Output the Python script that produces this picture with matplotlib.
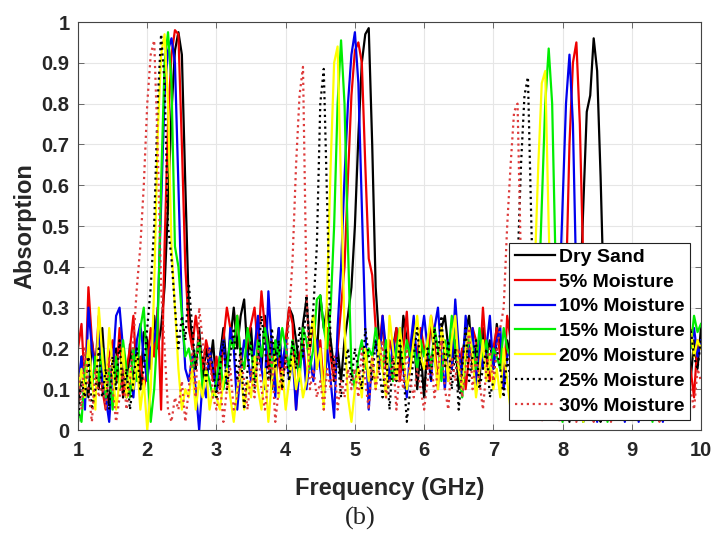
import numpy as np
import matplotlib
matplotlib.use("Agg")
import matplotlib.pyplot as plt

plt.rcParams['font.family'] = ['Liberation Sans', 'DejaVu Sans']

# frequency grid, 1 to 10 GHz in 0.05 GHz steps
freq = np.round(np.arange(1, 10.001, 0.05), 2)

dry_sand = [
    0.05, 0.18, 0.12, 0.08, 0.22, 0.15, 0.10, 0.25, 0.12, 0.06, 0.18, 0.20, 0.10, 0.15, 0.08, 0.21, 0.12, 0.18, 0.10, 0.24,
    0.22, 0.15, 0.28, 0.20, 0.25, 0.35, 0.55, 0.78, 0.93, 0.975, 0.92, 0.60, 0.30, 0.22, 0.15, 0.25, 0.12, 0.20, 0.15, 0.22,
    0.10, 0.18, 0.25, 0.15, 0.22, 0.30, 0.20, 0.28, 0.32, 0.18, 0.25, 0.12, 0.20, 0.15, 0.28, 0.22, 0.10, 0.18, 0.25, 0.15,
    0.20, 0.30, 0.28, 0.22, 0.15, 0.26, 0.32, 0.20, 0.28, 0.18, 0.33, 0.25, 0.30, 0.22, 0.15, 0.20, 0.12, 0.22, 0.28, 0.35,
    0.50, 0.72, 0.90, 0.97, 0.985, 0.70, 0.35, 0.22, 0.25, 0.18, 0.12, 0.20, 0.25, 0.15, 0.28, 0.22, 0.18, 0.25, 0.10, 0.20,
    0.08, 0.22, 0.26, 0.18, 0.12, 0.25, 0.28, 0.20, 0.15, 0.22, 0.10, 0.18, 0.24, 0.28, 0.15, 0.20, 0.12, 0.25, 0.18, 0.22,
    0.15, 0.26, 0.20, 0.12, 0.22, 0.18, 0.25, 0.10, 0.20, 0.24, 0.15, 0.22, 0.18, 0.12, 0.20, 0.08, 0.15, 0.22, 0.10, 0.18,
    0.05, 0.15, 0.02, 0.20, 0.10, 0.30, 0.55, 0.78, 0.82, 0.96, 0.88, 0.62, 0.30, 0.15, 0.05, 0.12, 0.08, 0.18, 0.10, 0.05,
    0.12, 0.03, 0.15, 0.08, 0.20, 0.10, 0.04, 0.18, 0.12, 0.22, 0.08, 0.15, 0.05, 0.20, 0.10, 0.25, 0.18, 0.12, 0.22, 0.15,
    0.25]

moist_5 = [
    0.20, 0.26, 0.10, 0.35, 0.22, 0.15, 0.28, 0.10, 0.05, 0.18, 0.22, 0.12, 0.25, 0.08, 0.15, 0.20, 0.28, 0.12, 0.18, 0.10,
    0.15, 0.25, 0.18, 0.30, 0.05, 0.45, 0.75, 0.92, 0.98, 0.97, 0.70, 0.40, 0.25, 0.20, 0.28, 0.22, 0.15, 0.22, 0.18, 0.12,
    0.18, 0.10, 0.22, 0.30, 0.25, 0.20, 0.28, 0.18, 0.15, 0.22, 0.26, 0.30, 0.20, 0.34, 0.25, 0.15, 0.22, 0.12, 0.18, 0.10,
    0.22, 0.30, 0.26, 0.05, 0.18, 0.22, 0.12, 0.20, 0.28, 0.15, 0.22, 0.10, 0.25, 0.18, 0.12, 0.20, 0.30, 0.40, 0.62, 0.82,
    0.93, 0.95, 0.90, 0.65, 0.42, 0.38, 0.25, 0.20, 0.28, 0.15, 0.22, 0.18, 0.25, 0.12, 0.20, 0.29, 0.15, 0.22, 0.18, 0.25,
    0.20, 0.15, 0.28, 0.22, 0.10, 0.25, 0.18, 0.12, 0.22, 0.28, 0.15, 0.20, 0.10, 0.18, 0.25, 0.22, 0.15, 0.30, 0.18, 0.12,
    0.20, 0.25, 0.18, 0.10, 0.28, 0.22, 0.15, 0.20, 0.24, 0.18, 0.12, 0.22, 0.18, 0.15, 0.20, 0.25, 0.18, 0.12, 0.22, 0.18,
    0.20, 0.35, 0.70, 0.90, 0.95, 0.75, 0.40, 0.20, 0.12, 0.18, 0.10, 0.15, 0.22, 0.12, 0.08, 0.15, 0.20, 0.10, 0.15, 0.08,
    0.18, 0.12, 0.05, 0.15, 0.22, 0.10, 0.18, 0.08, 0.12, 0.20, 0.15, 0.25, 0.10, 0.18, 0.05, 0.12, 0.20, 0.15, 0.08, 0.22,
    0.20]

moist_10 = [
    0.10, 0.18, 0.05, 0.30, 0.20, 0.15, 0.25, 0.12, 0.08, 0.02, 0.15, 0.28, 0.30, 0.20, 0.10, 0.15, 0.08, 0.22, 0.26, 0.18,
    0.12, 0.20, 0.22, 0.28, 0.55, 0.82, 0.93, 0.96, 0.90, 0.60, 0.30, 0.15, 0.12, 0.18, 0.10, 0.00, 0.12, 0.08, 0.20, 0.15,
    0.10, 0.18, 0.22, 0.12, 0.25, 0.20, 0.05, 0.15, 0.22, 0.18, 0.12, 0.20, 0.28, 0.15, 0.10, 0.34, 0.20, 0.08, 0.25, 0.15,
    0.22, 0.12, 0.18, 0.05, 0.15, 0.20, 0.10, 0.18, 0.12, 0.22, 0.15, 0.08, 0.20, 0.12, 0.03, 0.25, 0.40, 0.62, 0.80, 0.92,
    0.975, 0.85, 0.55, 0.25, 0.05, 0.18, 0.22, 0.15, 0.28, 0.20, 0.12, 0.22, 0.18, 0.25, 0.15, 0.08, 0.20, 0.28, 0.15, 0.22,
    0.28, 0.20, 0.12, 0.25, 0.30, 0.18, 0.10, 0.22, 0.15, 0.32, 0.20, 0.12, 0.28, 0.18, 0.25, 0.10, 0.22, 0.15, 0.20, 0.28,
    0.15, 0.22, 0.25, 0.10, 0.18, 0.20, 0.28, 0.12, 0.22, 0.15, 0.20, 0.18, 0.12, 0.25, 0.18, 0.10, 0.20, 0.15, 0.22, 0.30,
    0.55, 0.80, 0.92, 0.75, 0.35, 0.10, 0.02, 0.15, 0.08, 0.12, 0.02, 0.10, 0.18, 0.06, 0.12, 0.03, 0.15, 0.08, 0.02, 0.10,
    0.05, 0.12, 0.02, 0.08, 0.15, 0.04, 0.10, 0.18, 0.06, 0.02, 0.12, 0.20, 0.08, 0.15, 0.05, 0.22, 0.28, 0.20, 0.25, 0.18,
    0.22]

moist_15 = [
    0.05, 0.02, 0.15, 0.20, 0.10, 0.18, 0.12, 0.20, 0.08, 0.15, 0.05, 0.18, 0.10, 0.22, 0.15, 0.08, 0.20, 0.12, 0.25, 0.30,
    0.15, 0.02, 0.10, 0.25, 0.60, 0.90, 0.975, 0.85, 0.45, 0.40, 0.28, 0.18, 0.20, 0.15, 0.18, 0.22, 0.10, 0.15, 0.12, 0.08,
    0.12, 0.18, 0.10, 0.15, 0.22, 0.20, 0.28, 0.18, 0.15, 0.25, 0.20, 0.12, 0.22, 0.18, 0.25, 0.20, 0.15, 0.22, 0.18, 0.25,
    0.20, 0.15, 0.22, 0.18, 0.12, 0.25, 0.22, 0.15, 0.20, 0.32, 0.33, 0.25, 0.20, 0.30, 0.50, 0.80, 0.955, 0.80, 0.45, 0.15,
    0.10, 0.18, 0.22, 0.15, 0.20, 0.18, 0.25, 0.20, 0.15, 0.22, 0.18, 0.12, 0.20, 0.25, 0.15, 0.22, 0.18, 0.20, 0.15, 0.22,
    0.18, 0.22, 0.15, 0.25, 0.20, 0.12, 0.22, 0.18, 0.28, 0.20, 0.15, 0.08, 0.18, 0.22, 0.20, 0.15, 0.25, 0.18, 0.22, 0.15,
    0.20, 0.18, 0.15, 0.25, 0.20, 0.18, 0.22, 0.15, 0.25, 0.20, 0.18, 0.22, 0.22, 0.30, 0.55, 0.80, 0.935, 0.80, 0.40, 0.12,
    0.02, 0.10, 0.15, 0.05, 0.12, 0.08, 0.02, 0.15, 0.10, 0.05, 0.12, 0.08, 0.15, 0.02, 0.10, 0.18, 0.05, 0.12, 0.08, 0.15,
    0.10, 0.05, 0.12, 0.18, 0.08, 0.15, 0.02, 0.12, 0.20, 0.10, 0.15, 0.05, 0.18, 0.12, 0.25, 0.29, 0.22, 0.20, 0.28, 0.24,
    0.26]

moist_20 = [
    0.10, 0.15, 0.08, 0.22, 0.12, 0.05, 0.30, 0.18, 0.10, 0.25, 0.15, 0.05, 0.12, 0.20, 0.08, 0.15, 0.10, 0.18, 0.05, 0.12,
    0.00, 0.10, 0.35, 0.72, 0.92, 0.97, 0.80, 0.45, 0.30, 0.15, 0.05, 0.10, 0.08, 0.15, 0.05, 0.12, 0.08, 0.15, 0.05, 0.10,
    0.08, 0.05, 0.12, 0.15, 0.08, 0.02, 0.10, 0.15, 0.05, 0.12, 0.08, 0.18, 0.10, 0.05, 0.15, 0.02, 0.12, 0.18, 0.08, 0.15,
    0.05, 0.12, 0.18, 0.10, 0.15, 0.08, 0.12, 0.22, 0.28, 0.15, 0.20, 0.05, 0.35, 0.65, 0.90, 0.94, 0.60, 0.25, 0.08, 0.02,
    0.10, 0.15, 0.08, 0.20, 0.12, 0.18, 0.10, 0.22, 0.15, 0.08, 0.28, 0.20, 0.12, 0.25, 0.18, 0.10, 0.15, 0.22, 0.28, 0.18,
    0.15, 0.22, 0.28, 0.18, 0.10, 0.25, 0.20, 0.12, 0.22, 0.28, 0.15, 0.10, 0.20, 0.25, 0.18, 0.08, 0.15, 0.22, 0.12, 0.18,
    0.10, 0.15, 0.08, 0.20, 0.12, 0.05, 0.18, 0.10, 0.15, 0.25, 0.12, 0.20, 0.40, 0.65, 0.85, 0.88, 0.50, 0.20, 0.05, 0.10,
    0.15, 0.08, 0.12, 0.05, 0.18, 0.10, 0.02, 0.12, 0.08, 0.15, 0.05, 0.10, 0.18, 0.08, 0.12, 0.05, 0.15, 0.10, 0.08, 0.12,
    0.05, 0.10, 0.15, 0.08, 0.12, 0.05, 0.18, 0.10, 0.08, 0.15, 0.12, 0.05, 0.10, 0.18, 0.15, 0.22, 0.20, 0.25, 0.18, 0.22,
    0.20]

moist_25 = [
    0.02, 0.12, 0.08, 0.18, 0.05, 0.10, 0.20, 0.08, 0.15, 0.05, 0.18, 0.10, 0.22, 0.08, 0.15, 0.05, 0.12, 0.20, 0.10, 0.15,
    0.25, 0.35, 0.50, 0.80, 0.97, 0.85, 0.50, 0.42, 0.30, 0.20, 0.28, 0.22, 0.36, 0.25, 0.15, 0.22, 0.18, 0.12, 0.20, 0.15,
    0.08, 0.15, 0.22, 0.10, 0.18, 0.25, 0.12, 0.20, 0.05, 0.15, 0.22, 0.10, 0.18, 0.28, 0.20, 0.12, 0.25, 0.15, 0.22, 0.10,
    0.18, 0.12, 0.22, 0.15, 0.25, 0.18, 0.33, 0.20, 0.30, 0.45, 0.80, 0.885, 0.55, 0.20, 0.12, 0.18, 0.08, 0.15, 0.20, 0.12,
    0.20, 0.15, 0.10, 0.25, 0.18, 0.12, 0.22, 0.15, 0.08, 0.20, 0.05, 0.18, 0.12, 0.22, 0.15, 0.02, 0.10, 0.18, 0.25, 0.15,
    0.08, 0.20, 0.12, 0.25, 0.18, 0.28, 0.15, 0.22, 0.10, 0.20, 0.05, 0.15, 0.25, 0.12, 0.18, 0.22, 0.10, 0.15, 0.20, 0.08,
    0.12, 0.20, 0.15, 0.08, 0.18, 0.12, 0.22, 0.40, 0.65, 0.82, 0.865, 0.50, 0.20, 0.08, 0.15, 0.05, 0.12, 0.10, 0.05, 0.15,
    0.08, 0.12, 0.05, 0.15, 0.10, 0.18, 0.08, 0.12, 0.05, 0.15, 0.10, 0.02, 0.12, 0.08, 0.15, 0.05, 0.10, 0.18, 0.08, 0.12,
    0.15, 0.05, 0.10, 0.02, 0.12, 0.08, 0.15, 0.05, 0.10, 0.18, 0.12, 0.08, 0.15, 0.10, 0.05, 0.20, 0.12, 0.25, 0.18, 0.15,
    0.22]

moist_30 = [
    0.15, 0.05, 0.20, 0.10, 0.02, 0.15, 0.08, 0.12, 0.05, 0.18, 0.10, 0.02, 0.08, 0.15, 0.05, 0.12, 0.22, 0.35, 0.45, 0.60,
    0.80, 0.92, 0.955, 0.70, 0.35, 0.20, 0.05, 0.02, 0.08, 0.05, 0.12, 0.02, 0.10, 0.20, 0.08, 0.30, 0.22, 0.15, 0.20, 0.08,
    0.05, 0.12, 0.02, 0.10, 0.15, 0.05, 0.08, 0.18, 0.12, 0.05, 0.15, 0.08, 0.20, 0.10, 0.05, 0.12, 0.18, 0.02, 0.10, 0.15,
    0.15, 0.28, 0.42, 0.65, 0.82, 0.89, 0.35, 0.10, 0.15, 0.08, 0.12, 0.05, 0.15, 0.10, 0.18, 0.05, 0.12, 0.08, 0.15, 0.10,
    0.15, 0.08, 0.20, 0.12, 0.05, 0.18, 0.10, 0.15, 0.22, 0.08, 0.12, 0.18, 0.05, 0.15, 0.10, 0.20, 0.12, 0.08, 0.15, 0.10,
    0.05, 0.12, 0.18, 0.08, 0.15, 0.22, 0.10, 0.05, 0.18, 0.12, 0.20, 0.08, 0.15, 0.25, 0.10, 0.18, 0.12, 0.05, 0.15, 0.20,
    0.12, 0.20, 0.25, 0.30, 0.50, 0.65, 0.78, 0.80, 0.40, 0.10, 0.05, 0.12, 0.08, 0.15, 0.02, 0.10, 0.05, 0.12, 0.08, 0.02,
    0.10, 0.05, 0.15, 0.08, 0.02, 0.12, 0.18, 0.05, 0.10, 0.02, 0.15, 0.08, 0.12, 0.05, 0.02, 0.10, 0.15, 0.08, 0.05, 0.12,
    0.08, 0.15, 0.02, 0.10, 0.05, 0.12, 0.18, 0.08, 0.02, 0.15, 0.10, 0.05, 0.12, 0.20, 0.08, 0.15, 0.22, 0.10, 0.05, 0.15,
    0.12]

labels = ['Dry Sand', '5% Moisture', '10% Moisture', '15% Moisture',
          '20% Moisture', '25% Moisture', '30% Moisture']
series = [dry_sand, moist_5, moist_10, moist_15, moist_20, moist_25, moist_30]
colors = ['#000000', '#ee0000', '#0000ee', '#00ee00', '#ffff00', '#000000', '#dd3b3b']
styles = ['-', '-', '-', '-', '-', ':', ':']

fig = plt.figure(figsize=(7.16, 5.38), dpi=100)
ax = fig.add_axes([0.109, 0.2007, 0.870, 0.7584])

for y, lab, c, ls in zip(series, labels, colors, styles):
    ax.plot(freq, y, color=c, linestyle=ls, linewidth=1.6, label=lab)

ax.set_xlim(1, 10)
ax.set_ylim(0, 1)
ax.set_xticks(np.arange(1, 11, 1))
ax.set_yticks(np.arange(0, 1.01, 0.1))
ax.set_yticklabels(['0', '0.1', '0.2', '0.3', '0.4', '0.5', '0.6', '0.7', '0.8', '0.9', '1'])
ax.grid(True, color='#e6e6e6', linewidth=0.8)
ax.tick_params(direction='in', top=True, right=True, length=4, width=0.6,
               color='#555555', labelsize=14.5, labelcolor='#262626')
ax.tick_params(axis='x', pad=8)
ax.tick_params(axis='y', pad=6)
for lbl in ax.get_xticklabels() + ax.get_yticklabels():
    lbl.set_fontweight('bold')
for sp in ax.spines.values():
    sp.set_color('#444444')
    sp.set_linewidth(0.8)

ax.set_xlabel('Frequency (GHz)', fontsize=17, fontweight='bold', color='#262626', labelpad=12)
ax.set_ylabel('Absorption', fontsize=17, fontweight='bold', color='#262626', labelpad=4)

leg = ax.legend(loc='lower right', bbox_to_anchor=(0.982, 0.0245), borderaxespad=0,
                prop={'weight': 'bold', 'size': 14}, handlelength=2.05, handletextpad=0.2,
                labelspacing=0.37, borderpad=0.28, fancybox=False, framealpha=1,
                edgecolor='#222222')
leg.get_frame().set_linewidth(0.8)

fig.text(0.503, 0.036, '(b)', fontsize=19, family=['Liberation Serif', 'DejaVu Serif'],
         ha='center', va='center', color='#222222')

fig.savefig('out.png', dpi=100)
